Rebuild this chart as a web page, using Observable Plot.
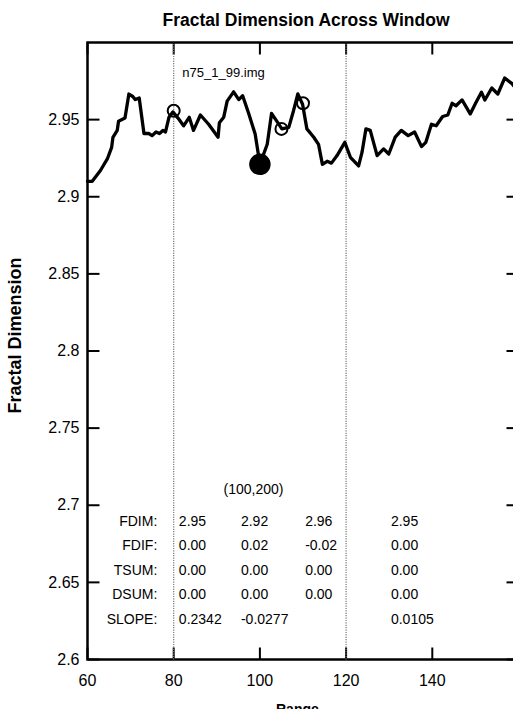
<!DOCTYPE html>
<html>
<head>
<meta charset="utf-8">
<script src="https://cdn.jsdelivr.net/npm/d3@7"></script>
<script src="https://cdn.jsdelivr.net/npm/@observablehq/plot@0.6"></script>
<style>
  html, body { margin: 0; padding: 0; background: #fff; overflow: hidden; }
  #chart { position: relative; width: 520px; height: 709px; }
  #chart svg { font-family: "Liberation Sans", Arial, Helvetica, sans-serif; display: block; position: absolute; left: 0; top: 0; }
</style>
</head>
<body>
<div id="chart"></div>
<script>
// ---- data ----
const rangeX = [60, 61.1, 63, 64.6, 65.6, 65.9, 66.9, 67.2, 68.7, 69.6, 70.5, 71.1, 72, 73.1, 74.2, 75, 75.9, 76.7, 77.5, 78.1, 78.9, 79.8, 81, 82.3, 83.6, 84.6, 86.2, 88.1, 90.3, 90.6, 91.6, 92.4, 93.9, 95.1, 96, 97.4, 98.9, 100, 101.7, 102.7, 103.6, 105.1, 106.7, 107.8, 108.8, 109.9, 110.9, 112.5, 113.6, 114.5, 115.6, 116.6, 117.9, 119.7, 121, 122.9, 123.7, 124.6, 125.6, 127.2, 128.7, 129.9, 131.4, 132.8, 134.4, 135.9, 137.5, 138.5, 139.8, 140.9, 142.4, 143.6, 144.6, 145.5, 146.9, 148.8, 150.1, 151.4, 152.2, 153.8, 155.2, 156.8, 158.5, 160];
const fdim = [2.910, 2.910, 2.917, 2.9245, 2.932, 2.9385, 2.943, 2.949, 2.951, 2.9666, 2.965, 2.963, 2.964, 2.941, 2.941, 2.9396, 2.942, 2.941, 2.943, 2.942, 2.9515, 2.955, 2.951, 2.946, 2.9515, 2.943, 2.953, 2.947, 2.9386, 2.948, 2.9515, 2.962, 2.968, 2.963, 2.9655, 2.954, 2.9407, 2.921, 2.934, 2.954, 2.9503, 2.944, 2.945, 2.9558, 2.9667, 2.960, 2.944, 2.9386, 2.934, 2.921, 2.923, 2.9218, 2.9267, 2.9353, 2.9256, 2.920, 2.9289, 2.944, 2.943, 2.9267, 2.931, 2.9277, 2.9386, 2.943, 2.9396, 2.942, 2.9325, 2.9353, 2.947, 2.946, 2.952, 2.953, 2.9606, 2.959, 2.9628, 2.9537, 2.961, 2.9678, 2.9627, 2.9705, 2.9666, 2.977, 2.9733, 2.968];

const openX = [80, 105, 110];
const openY = [2.9558, 2.944, 2.9606];
const filledX = [100];
const filledY = [2.921];

const windowBounds = [80, 120];
const xTicks = [60, 80, 100, 120, 140];
const yTicks = [2.6, 2.65, 2.7, 2.75, 2.8, 2.85, 2.9, 2.95];

const titleText = "Fractal Dimension Across Window";
const xLabelText = "Range";
const yLabelText = "Fractal Dimension";
const fileLabel = "n75_1_99.img";
const rangeLabel = "(100,200)";
const rowLabels = ["FDIM:", "FDIF:", "TSUM:", "DSUM:", "SLOPE:"];
const col1 = ["2.95", "0.00", "0.00", "0.00", "0.2342"];
const col2 = ["2.92", "0.02", "0.00", "0.00", "-0.0277"];
const col3 = ["2.96", "-0.02", "0.00", "0.00", ""];
const col4 = ["2.95", "0.00", "0.00", "0.00", "0.0105"];

// ---- layout (positions of annotation text, in data units) ----
const rowYpos = [2.6892, 2.6737, 2.6579, 2.6422, 2.6262];
const labelColX = 76.2;
const colX = [81.2, 95.6, 110.5, 130.4];
const headerPos = {x: 98.5, y: 2.7105};
const filePos = {x: 82, y: 2.9806};
const yLabelPos = {x: 43.3, y: 2.81};
const xLabelPos = {x: 108.7, y: 2.5674};
const titlePos = {x: 110.7, y: 3.0143};

// ---- build ----
const W = 520, H = 709, mL = 87, mR = 2, mT = 42, mB = 50;
const plotW = W - mL - mR, plotH = H - mT - mB;
const xDomain = [60, 160], yDomain = [2.6, 3.0];
const tickPx = 12;
const tx = tickPx * (xDomain[1] - xDomain[0]) / plotW;
const ty = tickPx * (yDomain[1] - yDomain[0]) / plotH;

const tickSegs = [];
yTicks.forEach(v => {
  tickSegs.push({x1: xDomain[0], x2: xDomain[0] + tx, y1: v, y2: v});
  tickSegs.push({x1: xDomain[1] - tx, x2: xDomain[1], y1: v, y2: v});
});
xTicks.forEach(v => {
  tickSegs.push({x1: v, x2: v, y1: yDomain[0], y2: yDomain[0] + ty});
  tickSegs.push({x1: v, x2: v, y1: yDomain[1] - ty, y2: yDomain[1]});
});
const windowSegs = windowBounds.map(v => ({x1: v, x2: v, y1: yDomain[0], y2: yDomain[1]}));

const series = rangeX.map((x, i) => ({x, y: fdim[i]}));
const openPts = openX.map((x, i) => ({x, y: openY[i]}));
const filledPts = filledX.map((x, i) => ({x, y: filledY[i]}));
const tableCells = [];
rowLabels.forEach((r, i) => {
  [col1, col2, col3, col4].forEach((col, j) => {
    if (col[i] !== "") tableCells.push({x: colX[j], y: rowYpos[i], t: col[i]});
  });
});
const rowLabelData = rowLabels.map((t, i) => ({x: labelColX, y: rowYpos[i], t}));
const single = (t, p) => [{t, x: p.x, y: p.y}];

const common = {
  width: W, height: H,
  marginLeft: mL, marginRight: mR, marginTop: mT, marginBottom: mB,
  x: {domain: xDomain, axis: null},
  y: {domain: yDomain, axis: null}
};

// layer 1: frame, inward ticks, y tick labels
const baseLayer = Plot.plot({
  ...common,
  style: {fontFamily: '"Liberation Sans", Arial, Helvetica, sans-serif', color: "black", background: "white"},
  marks: [
    Plot.link(tickSegs, {x1: "x1", x2: "x2", y1: "y1", y2: "y2", stroke: "black", strokeWidth: 2}),
    Plot.axisY(yTicks, {anchor: "left", tickSize: 0, tickPadding: 8, fontSize: 16, tickFormat: d => String(+d.toFixed(2)), label: null}),
    Plot.frame({stroke: "black", strokeWidth: 2.5})
  ]
});

// layer 2: data and annotations
const dataLayer = Plot.plot({
  ...common,
  style: {fontFamily: '"Liberation Sans", Arial, Helvetica, sans-serif', color: "black", background: "transparent"},
  marks: [
    Plot.axisX(xTicks, {anchor: "bottom", tickSize: 0, tickPadding: 15, fontSize: 16, tickFormat: d => String(d), label: null}),
    Plot.link(windowSegs, {x1: "x1", x2: "x2", y1: "y1", y2: "y2", stroke: "#777", strokeWidth: 1.2, strokeDasharray: "1.2,1.2"}),
    Plot.line(series, {x: "x", y: "y", stroke: "black", strokeWidth: 3.3, strokeLinejoin: "round"}),
    Plot.dot(openPts, {x: "x", y: "y", r: 6, stroke: "black", strokeWidth: 2, fill: "none"}),
    Plot.dot(filledPts, {x: "x", y: "y", r: 10, fill: "black", stroke: "black"}),
    Plot.text(single(fileLabel, filePos), {x: "x", y: "y", text: "t", textAnchor: "start", fontSize: 13}),
    Plot.text(single(rangeLabel, headerPos), {x: "x", y: "y", text: "t", textAnchor: "middle", fontSize: 14}),
    Plot.text(rowLabelData, {x: "x", y: "y", text: "t", textAnchor: "end", fontSize: 14}),
    Plot.text(tableCells, {x: "x", y: "y", text: "t", textAnchor: "start", fontSize: 14}),
    Plot.text(single(titleText, titlePos), {x: "x", y: "y", text: "t", fontWeight: "bold", fontSize: 17.5}),
    Plot.text(single(xLabelText, xLabelPos), {x: "x", y: "y", text: "t", fontWeight: "bold", fontSize: 14}),
    Plot.text(single(yLabelText, yLabelPos), {x: "x", y: "y", rotate: -90, text: "t", fontWeight: "bold", fontSize: 18})
  ]
});
const host = document.getElementById("chart");
host.appendChild(baseLayer);
host.appendChild(dataLayer);
</script>
</body>
</html>
